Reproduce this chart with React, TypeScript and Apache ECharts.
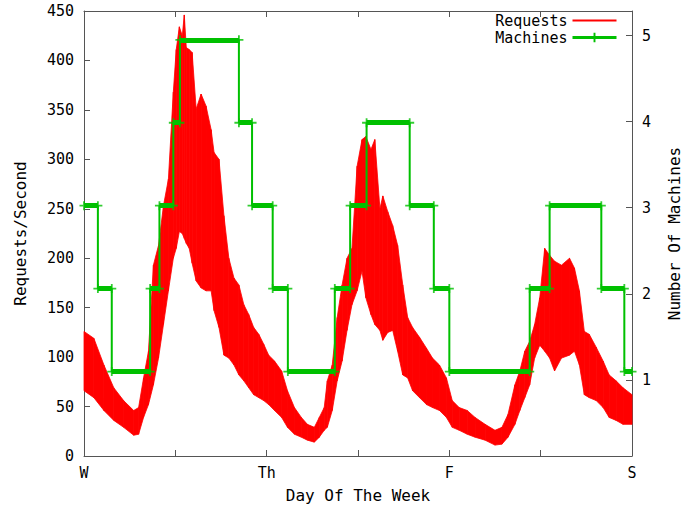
import React, { useEffect, useRef } from "react";
import * as echarts from "echarts";

// x positions in days since Wednesday 00:00
const dayLabels = ["W", "Th", "F", "S"];

const reqTime = [
  0, 0.054, 0.109, 0.163, 0.217, 0.272, 0.299, 0.326, 0.353, 0.38, 0.408, 0.435, 0.462, 0.489, 0.505,
  0.522, 0.538, 0.549, 0.56, 0.576, 0.592, 0.614, 0.641, 0.668, 0.696, 0.712, 0.739, 0.766, 0.793,
  0.821, 0.848, 0.875, 0.902, 0.929, 0.957, 0.984, 1.011, 1.043, 1.082, 1.114, 1.152, 1.19, 1.223,
  1.261, 1.288, 1.315, 1.332, 1.359, 1.386, 1.413, 1.44, 1.467, 1.495, 1.522, 1.543, 1.571, 1.592,
  1.62, 1.636, 1.663, 1.69, 1.717, 1.745, 1.772, 1.799, 1.837, 1.875, 1.908, 1.946, 1.984, 2.016,
  2.054, 2.098, 2.141, 2.196, 2.25, 2.288, 2.321, 2.359, 2.386, 2.413, 2.44, 2.467, 2.495, 2.522,
  2.549, 2.576, 2.614, 2.658, 2.685, 2.712, 2.739, 2.766, 2.804, 2.842, 2.875, 2.913, 2.951, 3.0,
];
const reqHigh = [
  126, 119, 92, 69, 56, 46, 49, 79, 106, 193, 213, 253, 280, 368, 411,
  434, 425, 446, 413, 411, 408, 351, 366, 354, 330, 307, 300, 243, 200,
  180, 173, 153, 143, 130, 123, 113, 102, 96, 86, 66, 49, 39, 32,
  29, 39, 49, 76, 92, 140, 173, 200, 210, 293, 320, 323, 310, 320,
  250, 263, 247, 233, 213, 173, 140, 130, 120, 109, 99, 92, 79, 56,
  49, 46, 39, 32, 26, 29, 42, 72, 86, 106, 116, 133, 160, 210,
  203, 197, 193, 200, 190, 167, 126, 123, 110, 96, 82, 76, 69, 62,
];
const reqLow = [
  66, 59, 46, 36, 29, 21, 22, 39, 52, 72, 99, 133, 167, 200, 210,
  227, 225, 220, 215, 210, 195, 177, 170, 167, 167, 147, 130, 102, 99,
  92, 82, 76, 69, 62, 59, 56, 52, 46, 39, 29, 22, 19, 16,
  14, 19, 26, 29, 46, 76, 96, 127, 153, 167, 187, 160, 143, 133,
  127, 117, 125, 127, 106, 82, 79, 66, 59, 52, 49, 46, 39, 29,
  26, 22, 19, 16, 11, 12, 19, 32, 46, 59, 72, 99, 112, 106,
  99, 86, 99, 102, 106, 92, 62, 59, 56, 49, 39, 36, 32, 32,
];

// machine count holds from each change time until the next one
const machineTimes = [
  0, 0.076, 0.152, 0.362, 0.413, 0.489, 0.525, 0.848, 0.92, 1.033, 1.116,
  1.373, 1.457, 1.547, 1.783, 1.915, 2.0, 2.44, 2.549, 2.832, 2.958,
];
const machineCounts = [3, 2, 1, 2, 3, 4, 5, 4, 3, 2, 1, 2, 3, 4, 3, 2, 1, 2, 3, 2, 1];
const endTime = 3.0;

const FONT = "DejaVu Sans Mono";
const AXIS = "#555555";
const RED = "#ff0000";
const GREEN = "#00c000";
const PLUS = "path://M4,0H6V4H10V6H6V10H4V6H0V4H4Z";
const THIN_LINE = "path://M0,0H44V2H0Z";

export default function App() {
  const ref = useRef<HTMLDivElement>(null);
  useEffect(() => {
    document.body.style.margin = "0";
    if (!ref.current) return;
    const chart = echarts.init(ref.current, null, { renderer: "svg" });

    // band segments: [t_i, low_i, high_i, t_i+1, low_i+1, high_i+1]
    const bandData: number[][] = [];
    for (let i = 0; i + 1 < reqTime.length; i++) {
      bandData.push([reqTime[i], reqLow[i], reqHigh[i], reqTime[i + 1], reqLow[i + 1], reqHigh[i + 1]]);
    }
    const stepData = machineTimes.map((t, i) => [t, machineCounts[i]]);
    stepData.push([endTime, machineCounts[machineCounts.length - 1]]);
    const runs = machineTimes.map((t, i) => {
      const t2 = i + 1 < machineTimes.length ? machineTimes[i + 1] : endTime;
      return { coords: [[t, machineCounts[i]], [t2, machineCounts[i]]] };
    });
    const ends: number[][] = [];
    runs.forEach((r) => {
      ends.push(r.coords[0]);
      ends.push(r.coords[1]);
    });

    const tickStyle = { inside: true, length: 6, lineStyle: { color: AXIS, width: 1 } };
    const lineStyle = { show: true, onZero: false, lineStyle: { color: AXIS, width: 1 } };
    const labelStyle = { color: "#000", fontFamily: FONT, fontSize: 15 };
    const nameStyle = { color: "#000", fontFamily: FONT, fontSize: 16 };

    chart.setOption({
      animation: false,
      textStyle: { fontFamily: FONT },
      grid: { left: 84, right: 54, top: 11, bottom: 49, containLabel: false },
      legend: {
        data: [
          { name: "Requests", icon: THIN_LINE, itemStyle: { color: RED, opacity: 1 } },
          { name: "Machines", lineStyle: { width: 3, color: GREEN } },
        ],
        orient: "vertical",
        align: "right",
        right: 72,
        top: 13,
        padding: 0,
        itemWidth: 44,
        itemHeight: 12,
        itemGap: 2,
        symbolKeepAspect: true,
        textStyle: { color: "#000", fontFamily: FONT, fontSize: 15, lineHeight: 15 },
      },
      xAxis: [
        {
          type: "value",
          min: 0,
          max: 3,
          interval: 0.5,
          position: "bottom",
          axisLine: lineStyle,
          axisTick: tickStyle,
          splitLine: { show: false },
          axisLabel: {
            ...labelStyle,
            margin: 9,
            formatter: (v: number) => (Number.isInteger(v) ? dayLabels[v] : ""),
          },
          name: "Day Of The Week",
          nameLocation: "middle",
          nameGap: 31,
          nameTextStyle: nameStyle,
        },
        {
          type: "value",
          min: 0,
          max: 3,
          interval: 0.5,
          position: "top",
          axisLine: lineStyle,
          axisTick: tickStyle,
          splitLine: { show: false },
          axisLabel: { show: false },
        },
      ],
      yAxis: [
        {
          type: "value",
          min: 0,
          max: 450,
          interval: 50,
          position: "left",
          axisLine: lineStyle,
          axisTick: tickStyle,
          splitLine: { show: false },
          axisLabel: { ...labelStyle, margin: 10 },
          name: "Requests/Second",
          nameLocation: "middle",
          nameRotate: 90,
          nameGap: 56,
          nameTextStyle: nameStyle,
        },
        {
          type: "value",
          min: 0.115,
          max: 5.285,
          position: "right",
          axisLine: lineStyle,
          axisTick: tickStyle,
          splitLine: { show: false },
          axisLabel: {
            ...labelStyle,
            margin: 10,
            showMinLabel: false,
            showMaxLabel: false,
            formatter: (v: number) => (Number.isInteger(v) ? String(v) : ""),
          },
          name: "Number Of Machines",
          nameLocation: "middle",
          nameRotate: 90,
          nameGap: 34,
          nameTextStyle: nameStyle,
        },
        {
          type: "value",
          min: -0.018,
          max: 5.347,
          show: false,
          splitLine: { show: false },
        },
      ],
      series: [
        {
          name: "reqBand",
          type: "custom",
          xAxisIndex: 0,
          yAxisIndex: 0,
          data: bandData,
          encode: { x: [0, 3], y: [1, 2, 4, 5] },
          silent: true,
          z: 2,
          renderItem: (params: any, api: any) => {
            const a = api.coord([api.value(0), api.value(1)]);
            const b = api.coord([api.value(0), api.value(2)]);
            const c = api.coord([api.value(3), api.value(5)]);
            const d = api.coord([api.value(3), api.value(4)]);
            return {
              type: "polygon",
              shape: { points: [a, b, c, d] },
              style: { fill: RED, stroke: RED, lineWidth: 0.8 },
            };
          },
        },
        {
          name: "Requests",
          type: "line",
          data: [],
          symbol: "none",
          color: RED,
          lineStyle: { color: RED, width: 1 },
        },
        {
          name: "Machines",
          type: "line",
          step: "end",
          yAxisIndex: 2,
          data: stepData,
          symbol: PLUS,
          symbolSize: 9,
          showSymbol: false,
          color: GREEN,
          lineStyle: { color: GREEN, width: 2 },
          z: 3,
        },
        {
          name: "machineRuns",
          type: "lines",
          coordinateSystem: "cartesian2d",
          xAxisIndex: 0,
          yAxisIndex: 2,
          data: runs,
          lineStyle: { color: GREEN, width: 5, opacity: 1 },
          silent: true,
          z: 4,
        },
        {
          name: "machineEnds",
          type: "scatter",
          yAxisIndex: 2,
          data: ends,
          symbol: PLUS,
          symbolSize: 9,
          itemStyle: { color: GREEN },
          silent: true,
          z: 4,
        },
      ],
    });
    return () => chart.dispose();
  }, []);
  return <div ref={ref} style={{ width: 690, height: 508 }} />;
}
